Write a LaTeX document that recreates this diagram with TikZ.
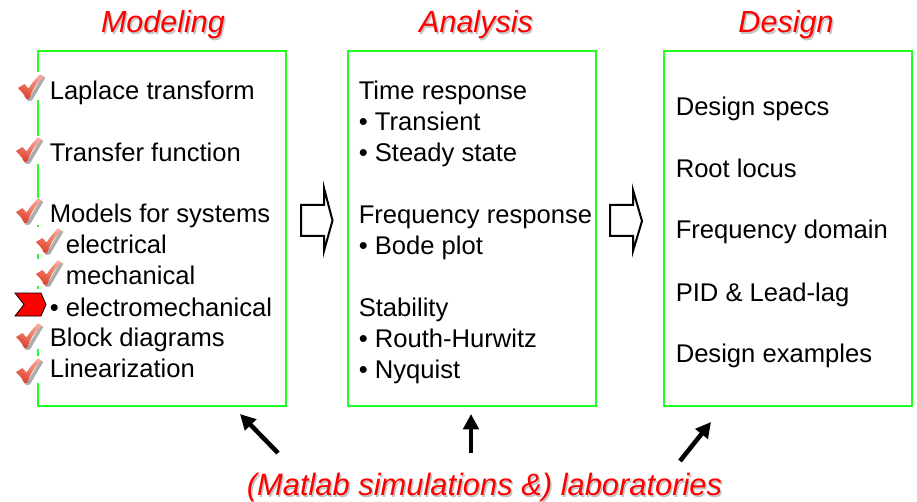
\documentclass[tikz,border=0pt]{standalone}
\usepackage{fontspec}
\setmainfont{Liberation Sans}
\usetikzlibrary{arrows.meta}
\definecolor{boxgreen}{HTML}{22FF22}
\definecolor{chkhi}{HTML}{F8A898}
\definecolor{chklo}{HTML}{E0402A}
\definecolor{shadowgray}{HTML}{C4C4C4}
\tikzset{
  panel/.style={draw=boxgreen,line width=2.2pt,fill=none,minimum width=186pt,minimum height=266.25pt,inner sep=0pt,outer sep=0pt,anchor=north west},
  item/.style={anchor=base west,inner sep=0pt,text=black,font=\fontsize{19.2}{23}\selectfont},
  head/.style={anchor=base,inner sep=0pt,text=red,font=\fontsize{22.9}{27}\selectfont\itshape},
  headshadow/.style={anchor=base,inner sep=0pt,text=shadowgray,font=\fontsize{22.9}{27}\selectfont\itshape},
  wide/.style={font=\fontsize{23.15}{27}\selectfont\itshape},
  blockarrow/.style={draw=black,line width=1.5pt,fill=white,miter limit=10},
  labarrow/.style={draw=black,line width=3.4pt,-{Triangle[length=11.5pt,width=11.5pt]}},
  gap/.style={fill=white,draw=none},
}
\newcommand{\chk}[2]{%
  \begin{scope}[shift={(#1,#2)}]
    \fill[gray!65!white] (11,24) -- (24,3) -- (27.5,3.5) -- (14,26.5) -- (10,27) -- (6,22) -- cycle;
    \shade[top color=chkhi,bottom color=chklo,shading angle=-25]
      (0,14) -- (6.5,10) -- (10.5,14.5)
      .. controls (14,9) and (18,4) .. (22,0.5) -- (26,2.5)
      .. controls (19,8) and (14,16) .. (11.5,24.5) -- (8.5,25) .. controls (6,20) and (3,17) .. (0,14) -- cycle;
  \end{scope}}
\begin{document}
\begin{tikzpicture}[x=0.75pt,y=-0.75pt]
\useasboundingbox (0,0) rectangle (917,502);
\fill[white] (0,0) rectangle (917,502);
% panels
\node[panel] (modbox) at (38,51) {};
\node[panel] (anabox) at (348,51) {};
\node[panel] (desbox) at (664,51) {};
% headings
\node[headshadow] (modshadow) at (164.5,34.5) {Modeling};
\node[head] (modtitle) at (163,33) {Modeling};
\node[headshadow] (anashadow) at (477.5,34.5) {Analysis};
\node[head] (anatitle) at (476,33) {Analysis};
\node[headshadow] (desshadow) at (787.5,34.5) {Design};
\node[head] (destitle) at (786,33) {Design};
% gaps in left edge
\foreach \a/\b in {72/100,136/164,198/225,227/254,259/286,289/349,356/383}
  \fill[gap] (35,\a) rectangle (42,\b);
% left items
\node[item] (m1) at (49.5,100) {Laplace transform};
\node[item] (m2) at (49.5,162) {Transfer function};
\node[item] (m3) at (49.5,223) {Models for systems};
\node[item] (m4) at (65.5,254) {electrical};
\node[item] (m5) at (65.5,285) {mechanical};
\node[item] (m6) at (49.5,316) {• electromechanical};
\node[item] (m7) at (49.5,346) {Block diagrams};
\node[item] (m8) at (49.5,377) {Linearization};
% checks
\chk{18}{74}\chk{16}{137}\chk{16}{198}\chk{36}{228}\chk{36}{260}\chk{16}{323}\chk{16}{358}
% pointer
\filldraw[fill=red,draw=black,line width=0.6pt] (15,293) -- (41,293) -- (46,304.5) -- (41,316) -- (15,316) -- (24,304.5) -- cycle;
% middle items
\node[item] (a1) at (358.5,100) {Time response};
\node[item] (a2) at (358.5,131) {• Transient};
\node[item] (a3) at (358.5,162) {• Steady state};
\node[item] (a4) at (358.5,224) {Frequency response};
\node[item] (a5) at (358.5,255) {• Bode plot};
\node[item] (a6) at (358.5,316) {Stability};
\node[item] (a7) at (358.5,347) {• Routh-Hurwitz};
\node[item] (a8) at (358.5,378) {• Nyquist};
% right items
\node[item] (d1) at (675.5,116) {Design specs};
\node[item] (d2) at (675.5,178) {Root locus};
\node[item] (d3) at (675.5,239) {Frequency domain};
\node[item] (d4) at (675.5,301) {PID \& Lead-lag};
\node[item] (d5) at (675.5,362) {Design examples};
% block arrows
\draw[blockarrow] (301,205) -- (324,205) -- (324,188) -- (332.5,220.5) -- (324,251) -- (324,236) -- (301,236) -- cycle;
\draw[blockarrow] (610,205) -- (633,205) -- (633,190) -- (642,221) -- (633,251) -- (633,236) -- (610,236) -- cycle;
% label arrows
\coordinate (t1) at (278,453); \coordinate (h1) at (240,414);
\coordinate (t2) at (471,453); \coordinate (h2) at (471,414);
\coordinate (t3) at (680,461); \coordinate (h3) at (711,422);
\draw[labarrow] (t1) -- (h1);
\draw[labarrow] (t2) -- (h2);
\draw[labarrow] (t3) -- (h3);
% bottom label
\node[headshadow,wide] (labshadow) at (486,497) {(Matlab simulations \&) laboratories};
\node[head,wide] (lab) at (484.5,495.5) {(Matlab simulations \&) laboratories};
\end{tikzpicture}
\end{document}
